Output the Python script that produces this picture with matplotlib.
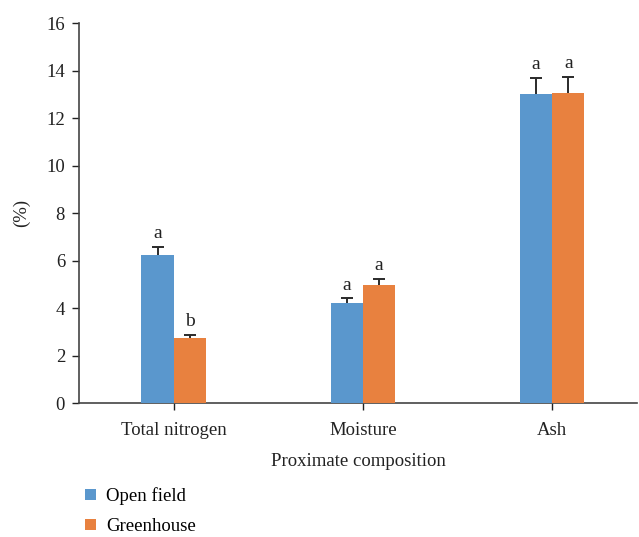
import numpy as np
import matplotlib
matplotlib.use('agg')
import matplotlib.pyplot as plt

categories = ["Total nitrogen", "Moisture", "Ash"]
open_field = [6.23, 4.21, 13.01]
open_err = [0.33, 0.20, 0.67]
greenhouse = [2.74, 4.97, 13.05]
greenhouse_err = [0.12, 0.25, 0.68]
open_letters = ["a", "a", "a"]
green_letters = ["b", "a", "a"]

blue = "#5A97CD"
orange = "#E8813F"

plt.rcParams['font.family'] = ['Liberation Serif', 'DejaVu Serif']

fig = plt.figure(figsize=(6.39, 5.37), dpi=100)
ax = fig.add_axes([0.1236, 0.2495, 0.874, 0.7075])

x = np.arange(len(categories))
w = 0.17
b1 = ax.bar(x - w / 2, open_field, w, color=blue, label="Open field", zorder=3)
b2 = ax.bar(x + w / 2, greenhouse, w, color=orange, label="Greenhouse", zorder=3)
# symmetric bars drawn behind the columns, so only the upper half shows
ax.errorbar(x - w / 2, open_field, yerr=open_err, fmt='none', zorder=2,
            ecolor='#2a2a2a', elinewidth=1.4, capsize=4, capthick=1.4)
ax.errorbar(x + w / 2, greenhouse, yerr=greenhouse_err, fmt='none', zorder=2,
            ecolor='#2a2a2a', elinewidth=1.4, capsize=4, capthick=1.4)

for xi, v, e, t in zip(x - w / 2, open_field, open_err, open_letters):
    ax.text(xi, v + e + 0.2, t, ha='center', va='bottom', fontsize=14, color='#222222')
for xi, v, e, t in zip(x + w / 2, greenhouse, greenhouse_err, green_letters):
    ax.text(xi, v + e + 0.2, t, ha='center', va='bottom', fontsize=14, color='#222222')

ax.set_xlim(-0.5, 2.45)
ax.set_ylim(0, 16)
ax.set_yticks(range(0, 17, 2))
ax.set_xticks(x)
ax.set_xticklabels(categories)
ax.tick_params(axis='both', labelsize=13.5, colors='#222222', length=5, width=1)
ax.tick_params(axis='x', pad=9)
ax.tick_params(axis='y', pad=5)
for s in ['top', 'right']:
    ax.spines[s].set_visible(False)
for s in ['left', 'bottom']:
    ax.spines[s].set_color('#444444')
    ax.spines[s].set_linewidth(1.2)

ax.set_xlabel("Proximate composition", fontsize=13.5, color='#222222', labelpad=10)
ax.set_ylabel("(%)", fontsize=13.5, color='#222222', labelpad=12)

fig.legend(handles=[b1, b2], loc='upper left', bbox_to_anchor=(0.122, 0.107),
           frameon=False, fontsize=13.5, handlelength=0.55, handleheight=0.55,
           handletextpad=0.55, labelspacing=0.7, borderaxespad=0)

fig.savefig('out.png', dpi=100)
